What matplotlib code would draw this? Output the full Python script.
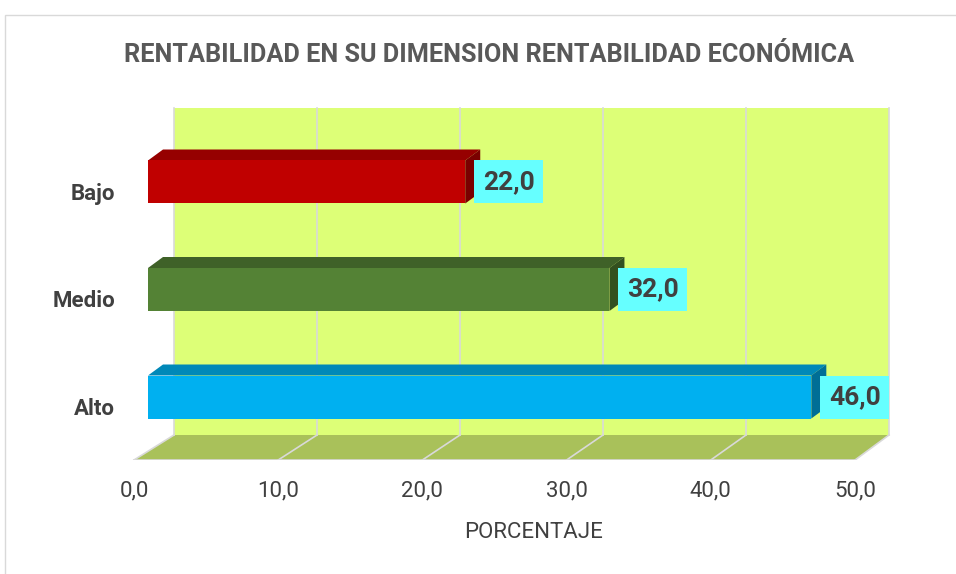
import matplotlib
matplotlib.use('Agg')
import matplotlib.pyplot as plt
from matplotlib.patches import Polygon, Rectangle

plt.rcParams['font.family'] = ['Roboto', 'DejaVu Sans']

# datos
categorias = ['Alto', 'Medio', 'Bajo']
porcentajes = [46.0, 32.0, 22.0]
ticks = [0, 10, 20, 30, 40, 50]
tick_labels = ['0,0', '10,0', '20,0', '30,0', '40,0', '50,0']

color_frente = ['#00B0F0', '#548235', '#C00000']
color_arriba = ['#0088B8', '#3F6128', '#960000']
color_lado = ['#006E96', '#33501F', '#7A0000']

titulo = 'RENTABILIDAD EN SU DIMENSION RENTABILIDAD ECONÓMICA'
gris_texto = '#404040'
gris_grid = '#D9D9D9'

W, H = 956, 574
fig = plt.figure(figsize=(W / 100, H / 100), dpi=100)

# ejes: x 0..50 -> pixeles 134..855 (frente del piso)
px_unit = (855 - 134) / 50.0
ax_l, ax_r, ax_t, ax_b = 100, 920, 100, 460
ax = fig.add_axes([ax_l / W, 1 - ax_b / H, (ax_r - ax_l) / W, (ax_b - ax_t) / H])
ax.set_xlim((ax_l - 134) / px_unit, (ax_r - 134) / px_unit)
ax.set_ylim(-(460 - 397) / 107.5, (397 - 100) / 107.5)
for s in ax.spines.values():
    s.set_visible(False)
ax.set_yticks([])
ax.set_xticks(ticks)
ax.set_xticklabels(tick_labels, fontsize=16, color=gris_texto)
ax.tick_params(axis='x', length=0, pad=15)
ax.patch.set_alpha(0)

# geometria 3D falsa
piso_frente = -(460 - 397) / 107.5
piso_fondo = -(435 - 397) / 107.5
pared_top = (397 - 108) / 107.5
fondo_dx = 40 / px_unit
fondo_esc = 715 / 721.0


def fondo(x):
    return fondo_dx + x * fondo_esc


xmax = ticks[-1]
ax.add_patch(Polygon([(fondo(0), piso_fondo), (fondo(xmax), piso_fondo),
                      (fondo(xmax), pared_top), (fondo(0), pared_top)],
                     closed=True, facecolor='#DDFF77', edgecolor='none', zorder=1))
ax.add_patch(Polygon([(0, piso_frente), (xmax, piso_frente),
                      (fondo(xmax), piso_fondo), (fondo(0), piso_fondo)],
                     closed=True, facecolor='#A9C15A', edgecolor='none', zorder=1))
for t in ticks:
    ax.plot([fondo(t), fondo(t)], [piso_fondo, pared_top], color=gris_grid, lw=1.2, zorder=2)
    ax.plot([t, fondo(t)], [piso_frente, piso_fondo], color=gris_grid, lw=1.2, zorder=2)
ax.plot([0, xmax], [piso_frente, piso_frente], color=gris_grid, lw=1.2, zorder=2)

# barras
off = 14 / px_unit
alto = 0.4
ddx = 15 / px_unit
ddy = 11 / 107.5
ypos = list(range(len(categorias)))
ax.barh(ypos, porcentajes, height=alto, left=off, color=color_frente, zorder=5)
for i, v in enumerate(porcentajes):
    y0, y1 = i - alto / 2, i + alto / 2
    x1 = off + v
    ax.add_patch(Polygon([(off, y1), (x1, y1), (x1 + ddx, y1 + ddy), (off + ddx, y1 + ddy)],
                         closed=True, facecolor=color_arriba[i], edgecolor='none', zorder=4))
    ax.add_patch(Polygon([(x1, y0), (x1, y1), (x1 + ddx, y1 + ddy), (x1 + ddx, y0 + ddy)],
                         closed=True, facecolor=color_lado[i], edgecolor='none', zorder=4))
    # etiqueta de dato
    bx = x1 + 9 / px_unit
    bw = 69 / px_unit
    ax.add_patch(Rectangle((bx, y0), bw, alto, facecolor='#66FFFF', edgecolor='none', zorder=6))
    ax.text(bx + bw / 2, i, '{:.1f}'.format(v).replace('.', ','), ha='center', va='center',
            fontsize=19, fontweight='bold', color=gris_texto, zorder=7)
    # categoria
    ax.text(-19 / px_unit, i - 0.107, categorias[i], ha='right', va='center', fontsize=16,
            fontweight='bold', color=gris_texto, zorder=7)

fig.text(489 / W, 1 - 55 / H, titulo, ha='center', va='center', fontsize=18.2,
         fontweight='bold', color='#595959')
fig.text(534 / W, 1 - 532 / H, 'PORCENTAJE', ha='center', va='center', fontsize=16,
         color=gris_texto)

fig.patches.append(Rectangle((5 / W, -0.2), 2, 1 - 15 / H + 0.2, transform=fig.transFigure,
                             fill=False, edgecolor=gris_grid, lw=1))

fig.savefig('out.png', dpi=100)
